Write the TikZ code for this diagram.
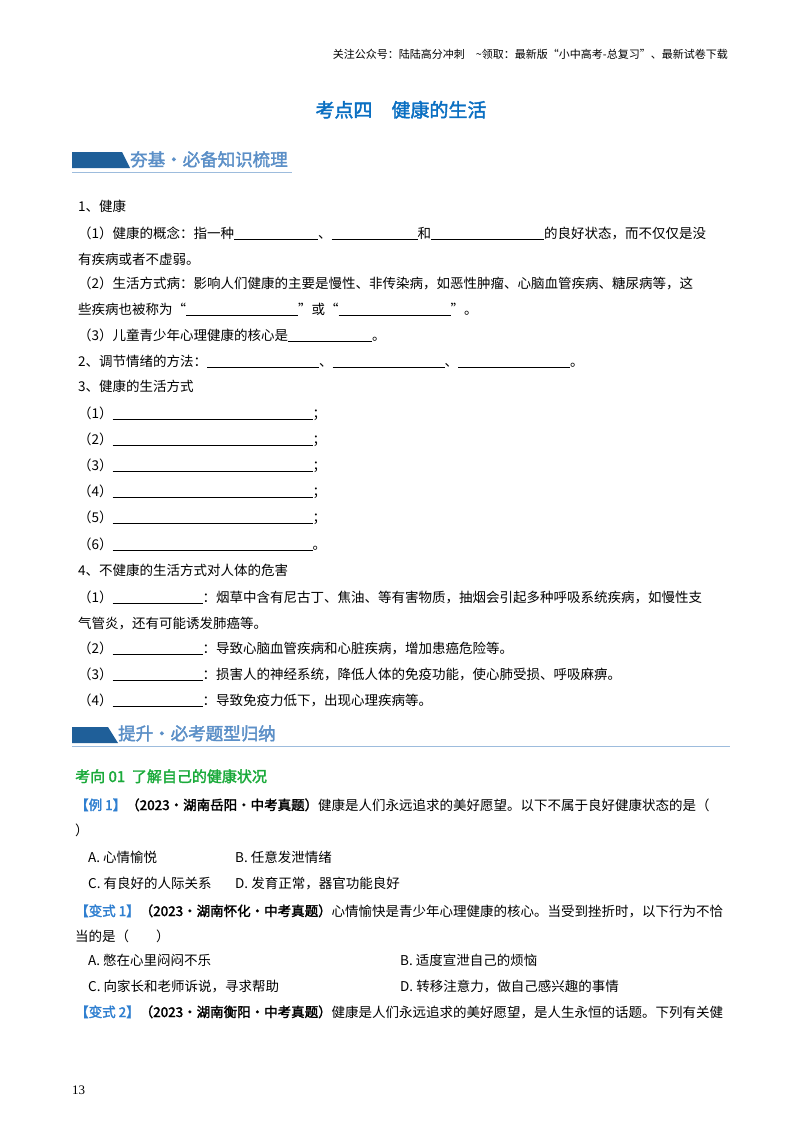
\documentclass[tikz,border=0pt]{standalone}
\usepackage{fontspec}
\setmainfont{Noto Sans CJK SC}
\newfontfamily\cjk{Noto Sans CJK SC}
\newfontfamily\cjkb[FakeBold=2]{Noto Sans CJK SC}
\newfontfamily\numfont{Liberation Serif}
\newcommand{\blk}[1]{\rule[-2pt]{#1pt}{0.6pt}}
\definecolor{hblue}{HTML}{0A6FC2}
\definecolor{bannerblue}{HTML}{1F5F99}
\definecolor{btxt}{HTML}{5B8FC7}
\definecolor{kgreen}{HTML}{1AAA3A}
\definecolor{lblue}{HTML}{2F7FD0}
\begin{document}
\begin{tikzpicture}[x=1pt,y=-1pt,
  t/.style={anchor=base west,inner sep=0pt,font=\fontsize{13.5}{16}\selectfont},
  ban/.style={anchor=base west,inner sep=0pt,text=btxt,font=\cjkb\fontsize{17.5}{20}\selectfont}]
\useasboundingbox (0,0) rectangle (800,1132);
\fill[white] (0,0) rectangle (800,1132);
\node[anchor=base east,inner sep=0pt,font=\fontsize{11}{13}\selectfont] (hdr) at (728,59) {关注公众号：陆陆高分冲刺\quad \textasciitilde 领取：最新版“小中高考-总复习”、最新试卷下载};
\node[anchor=base,inner sep=0pt,text=hblue,font=\cjkb\fontsize{19}{22}\selectfont] (title) at (401,117) {考点四\quad 健康的生活};
% banner 1
\fill[bannerblue] (72,152) -- (122,152) -- (130,168) -- (72,168) -- cycle;
\draw[btxt!60,line width=0.8pt] (72,172) -- (292,172);
\node[ban] (b1) at (130,166) {夯基·必备知识梳理};
% section 1
\node[t] (l1) at (78,211) {1、健康};
\node[t] (l2) at (78,238) {（1）健康的概念：指一种\blk{84}、\blk{86}和\blk{113}的良好状态，而不仅仅是没};
\node[t] (l3) at (78,264) {有疾病或者不虚弱。};
\node[t] (l4) at (78,288) {（2）生活方式病：影响人们健康的主要是慢性、非传染病，如恶性肿瘤、心脑血管疾病、糖尿病等，这};
\node[t] (l5) at (78,314) {些疾病也被称为“\blk{112}”或“\blk{112}”。};
\node[t] (l6) at (78,340) {（3）儿童青少年心理健康的核心是\blk{84}。};
\node[t] (l7) at (78,366) {2、调节情绪的方法：\blk{112}、\blk{112}、\blk{112}。};
\node[t] (l8) at (78,391) {3、健康的生活方式};
\node[t] (m1) at (78,418) {（1）\blk{200}；};
\node[t] (m2) at (78,444) {（2）\blk{200}；};
\node[t] (m3) at (78,470) {（3）\blk{200}；};
\node[t] (m4) at (78,496) {（4）\blk{200}；};
\node[t] (m5) at (78,522) {（5）\blk{200}；};
\node[t] (m6) at (78,549) {（6）\blk{200}。};
\node[t] (l9) at (78,575) {4、不健康的生活方式对人体的危害};
\node[t] (n1) at (78,602) {（1）\blk{90}：烟草中含有尼古丁、焦油、等有害物质，抽烟会引起多种呼吸系统疾病，如慢性支};
\node[t] (n1b) at (78,628) {气管炎，还有可能诱发肺癌等。};
\node[t] (n2) at (78,653) {（2）\blk{90}：导致心脑血管疾病和心脏疾病，增加患癌危险等。};
\node[t] (n3) at (78,679) {（3）\blk{90}：损害人的神经系统，降低人体的免疫功能，使心肺受损、呼吸麻痹。};
\node[t] (n4) at (78,705) {（4）\blk{90}：导致免疫力低下，出现心理疾病等。};
% banner 2
\fill[bannerblue] (72,727) -- (108,727) -- (118,743) -- (72,743) -- cycle;
\draw[btxt!60,line width=0.8pt] (72,746) -- (730,746);
\node[ban] (b2) at (118,740) {提升·必考题型归纳};
\node[anchor=base west,inner sep=0pt,text=kgreen,font=\cjkb\fontsize{15}{18}\selectfont] (k1) at (75,782) {考向 01\ \ 了解自己的健康状况};
\node[t] (e1) at (75,810) {\textcolor{lblue}{\cjkb【例 1】}{\cjkb（2023·湖南岳阳·中考真题）}健康是人们永远追求的美好愿望。以下不属于良好健康状态的是（};
\node[t] (e1b) at (75,835) {）};
\node[t] (a1) at (88,862) {A.\ 心情愉悦};
\node[t] (b1o) at (235,862) {B.\ 任意发泄情绪};
\node[t] (c1) at (88,888) {C.\ 有良好的人际关系};
\node[t] (d1) at (235,888) {D.\ 发育正常，器官功能良好};
\node[t] (v1) at (75,916) {\textcolor{lblue}{\cjkb【变式 1】}{\cjkb（2023·湖南怀化·中考真题）}心情愉快是青少年心理健康的核心。当受到挫折时，以下行为不恰};
\node[t] (v1b) at (75,941) {当的是（\qquad ）};
\node[t] (a2) at (88,965) {A.\ 憋在心里闷闷不乐};
\node[t] (b2o) at (400,965) {B.\ 适度宣泄自己的烦恼};
\node[t] (c2) at (88,991) {C.\ 向家长和老师诉说，寻求帮助};
\node[t] (d2) at (400,991) {D.\ 转移注意力，做自己感兴趣的事情};
\node[t] (v2) at (75,1017) {\textcolor{lblue}{\cjkb【变式 2】}{\cjkb（2023·湖南衡阳·中考真题）}健康是人们永远追求的美好愿望，是人生永恒的话题。下列有关健};
\node[anchor=base west,inner sep=0pt,font=\numfont\fontsize{13}{15}\selectfont] (pg) at (72,1094) {13};
\end{tikzpicture}
\end{document}
